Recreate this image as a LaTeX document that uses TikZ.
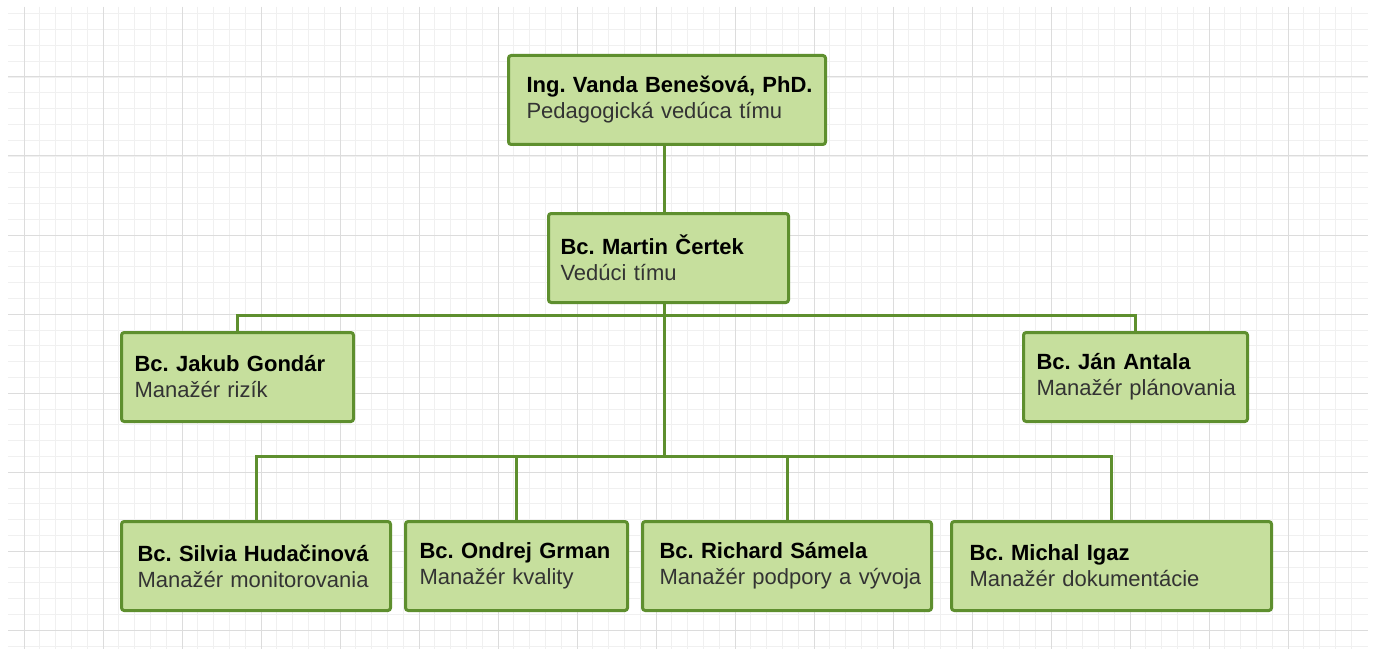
\documentclass[tikz,border=0pt]{standalone}
\usepackage{fontspec}
\setmainfont{Liberation Sans}
\usepackage{tikz}
\usetikzlibrary{calc, positioning}
\frenchspacing
\definecolor{boxfill}{HTML}{C6DF9D}
\definecolor{boxline}{HTML}{5E8F2E}
\definecolor{gridminor}{HTML}{F0F0F0}
\definecolor{gridmajor}{HTML}{DCDCDC}
\definecolor{roletext}{HTML}{333333}
\tikzstyle{member} = [rectangle, anchor=north west, rounded corners=2pt, line width=2.25pt, draw=boxline, fill=boxfill, align=left, inner ysep=0pt, minimum height=66.75pt, font=\fontsize{16.5}{19.5}\selectfont]
\tikzstyle{link} = [line width=2.25pt, draw=boxline]
\tikzstyle{minorline} = [line width=0.75pt, draw=gridminor]
\tikzstyle{majorline} = [line width=0.75pt, draw=gridmajor]
\newcommand{\who}[2]{\mbox{\bfseries #1}\\\mbox{\textcolor{roletext}{#2}}}

\begin{document}
\begin{tikzpicture}[x=0.75pt, y=-0.75pt]
	\useasboundingbox[fill=white] (0,0) rectangle (1373,649);
	% background grid
	\foreach \i in {0,...,84} \draw[minorline] ({24+15.8*\i},7) -- ({24+15.8*\i},649);
	\foreach \i in {0,...,40} \draw[minorline] (8,{14+15.8*\i}) -- (1368,{14+15.8*\i});
	\foreach \i in {0,...,16} \draw[majorline] ({24+79*\i},7) -- ({24+79*\i},649);
	\foreach \i in {0,...,7} \draw[majorline] (8,{77+79*\i}) -- (1368,{77+79*\i});
	% team
	\node (Vanda) [member, inner xsep=18*0.75pt, text width=281*0.75pt] at (507,54) {\who{Ing. Vanda Benešová, PhD.}{Pedagogická vedúca tímu}};
	\node (Martin) [member, inner xsep=12*0.75pt, text width=216*0.75pt] at (547,212) {\who{Bc. Martin Čertek}{Vedúci tímu}};
	\node (Jakub) [member, inner xsep=13*0.75pt, text width=206*0.75pt] at (120,331) {\who{Bc. Jakub Gondár}{Manažér rizík}};
	\node (Jan) [member, inner xsep=13*0.75pt, text width=198*0.75pt] at (1022,331) {\who{Bc. Ján Antala}{Manažér plánovania}};
	\node (Silvia) [member, inner xsep=16*0.75pt, text width=237*0.75pt] at (120,520) {\who{Bc. Silvia Hudačinová}{Manažér monitorovania}};
	\node (Ondrej) [member, inner xsep=14*0.75pt, text width=194*0.75pt] at (404,520) {\who{Bc. Ondrej Grman}{Manažér kvality}};
	\node (Richard) [member, inner xsep=17*0.75pt, text width=255*0.75pt] at (641,520) {\who{Bc. Richard Sámela}{Manažér podpory a vývoja}};
	\node (Michal) [member, inner xsep=18*0.75pt, text width=284*0.75pt] at (950,520) {\who{Bc. Michal Igaz}{Manažér dokumentácie}};
	\coordinate (UpperBus) at (664,315);
	\coordinate (LowerBus) at (664,456);
	\draw [link] (Vanda.south -| LowerBus) -- (Martin.north -| LowerBus);
	\draw [link] (Martin.south -| LowerBus) -- (LowerBus);
	\draw [link] (Jakub.north) |- (UpperBus) -| (Jan.north);
	\draw [link] (Silvia.north) |- (LowerBus) -| (Michal.north);
	\draw [link] (Ondrej.north) -- (Ondrej.north |- LowerBus);
	\draw [link] (Richard.north) -- (Richard.north |- LowerBus);
\end{tikzpicture}
\end{document}
